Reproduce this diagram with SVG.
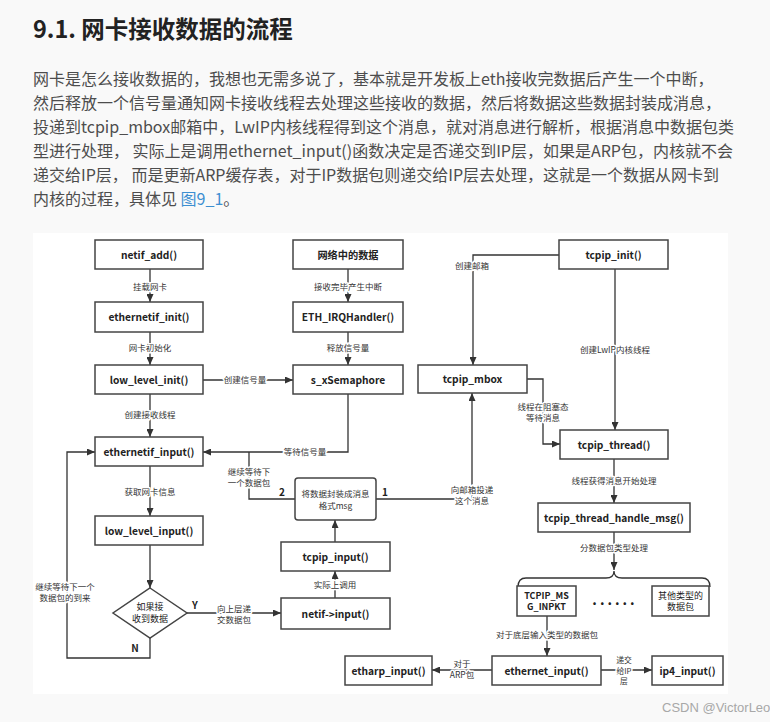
<svg xmlns="http://www.w3.org/2000/svg" width="770" height="722" viewBox="0 0 770 722">
<style>
.title{font-family:"Noto Sans CJK SC","Noto Sans",sans-serif;font-size:23.5px;font-weight:bold;fill:#222}
.para{font-family:"Noto Sans CJK SC","Noto Sans",sans-serif;font-size:16px;fill:#4d4d4d}
.link{fill:#3d8fd1}
.box{fill:#fff;stroke:#444;stroke-width:1.5}
.nt{font-family:"Noto Sans CJK SC","Noto Sans",sans-serif;font-size:10.2px;font-weight:bold;fill:#222;text-anchor:middle}
.st{font-family:"Noto Sans CJK SC","Noto Sans",sans-serif;font-size:9px;fill:#222;text-anchor:middle}
.sb{font-family:"Noto Sans CJK SC","Noto Sans",sans-serif;font-size:9px;font-weight:bold;fill:#222;text-anchor:middle}
.lb{font-family:"Noto Sans CJK SC","Noto Sans",sans-serif;font-size:8.5px;fill:#333;text-anchor:middle;stroke:#fff;stroke-width:3;paint-order:stroke;stroke-linejoin:round}
.num{font-family:"Noto Sans CJK SC","Noto Sans",sans-serif;font-size:10px;font-weight:bold;fill:#222;text-anchor:middle}
.ln{fill:none;stroke:#333;stroke-width:1.3}
.arr{marker-end:url(#ah)}
.wm{font-family:"Liberation Sans",sans-serif;font-size:13px;fill:#a8a8a8}
</style>
<defs>
<marker id="ah" markerWidth="8" markerHeight="7" refX="8" refY="3.5" orient="auto" markerUnits="userSpaceOnUse">
<path d="M0,0 L8,3.5 L0,7 z" fill="#333"/>
</marker>
</defs>
<rect x="0" y="0" width="770" height="722" fill="#f9f9f9"/>
<text class="title" x="33" y="37.5">9.1. 网卡接收数据的流程</text>
<g id="paragraph">
<text class="para" x="33" y="84.5">网卡是怎么接收数据的，我想也无需多说了，基本就是开发板上eth接收完数据后产生一个中断，</text>
<text class="para" x="33" y="108.5">然后释放一个信号量通知网卡接收线程去处理这些接收的数据，然后将数据这些数据封装成消息，</text>
<text class="para" x="33" y="132.5">投递到tcpip_mbox邮箱中，LwIP内核线程得到这个消息，就对消息进行解析，根据消息中数据包类</text>
<text class="para" x="33" y="156.5">型进行处理， 实际上是调用ethernet_input()函数决定是否递交到IP层，如果是ARP包，内核就不会</text>
<text class="para" x="33" y="180.5">递交给IP层， 而是更新ARP缓存表，对于IP数据包则递交给IP层去处理，这就是一个数据从网卡到</text>
<text class="para" x="33" y="204.5">内核的过程，具体见 <tspan class="link">图9_1</tspan>。</text>
</g>
<rect x="33" y="233" width="695" height="461" fill="#fff"/>

<g id="connectors">
<path class="ln arr" d="M150,269 V302"/>
<path class="ln arr" d="M150,332 V365"/>
<path class="ln arr" d="M150,394 V437"/>
<path class="ln arr" d="M203,380 H293"/>
<path class="ln arr" d="M348,269 V302"/>
<path class="ln arr" d="M348,332 V365"/>
<path class="ln arr" d="M348,394 V452 H203"/>
<path class="ln" d="M295,499 H249 V452"/>
<path class="ln arr" d="M376,499 H472 V393"/>
<path class="ln arr" d="M559,255 H473 V365"/>
<path class="ln arr" d="M615,269 V430"/>
<path class="ln arr" d="M527,379 H543 V444 H560"/>
<path class="ln arr" d="M614,459 V503"/>
<path class="ln arr" d="M614,532 V570"/>
<path class="ln" d="M518,587 Q518,578 526,578 L606,578 Q614,578 614,571 Q614,578 622,578 L702,578 Q710,578 710,587"/>
<path class="ln arr" d="M547,616 V656"/>
<path class="ln arr" d="M601,670 H652"/>
<path class="ln arr" d="M492,670 H432"/>
<path class="ln arr" d="M150,466 V516"/>
<path class="ln arr" d="M150,545 V588"/>
<path class="ln arr" d="M187,613 H281"/>
<path class="ln arr" d="M150,638 V658 H67 V452 H95"/>
<path class="ln arr" d="M335,599 V571"/>
<path class="ln arr" d="M335,542 V520"/>

<text class="lb" x="150" y="290">挂载网卡</text>
<text class="lb" x="150" y="351">网卡初始化</text>
<text class="lb" x="150" y="418">创建接收线程</text>
<text class="lb" x="245" y="383">创建信号量</text>
<text class="lb" x="348" y="290">接收完毕产生中断</text>
<text class="lb" x="348" y="351">释放信号量</text>
<text class="lb" x="305" y="455">等待信号量</text>
<text class="lb" x="249" y="475">继续等待下</text>
<text class="lb" x="249" y="486">一个数据包</text>
<text class="num" x="282" y="496">2</text>
<text class="num" x="385" y="496">1</text>
<text class="lb" x="472" y="493">向邮箱投递</text>
<text class="lb" x="472" y="504">这个消息</text>
<text class="lb" x="472" y="269">创建邮箱</text>
<text class="lb" x="615" y="353">创建LwIP内核线程</text>
<text class="lb" x="543" y="410">线程在阻塞态</text>
<text class="lb" x="543" y="421">等待消息</text>
<text class="lb" x="614" y="484">线程获得消息开始处理</text>
<text class="lb" x="614" y="551">分数据包类型处理</text>
<text class="lb" x="547" y="638">对于底层输入类型的数据包</text>
<text class="lb" x="624" y="663" style="font-size:7.8px">递交</text>
<text class="lb" x="624" y="673.5" style="font-size:7.8px">给IP</text>
<text class="lb" x="624" y="684" style="font-size:7.8px">层</text>
<text class="lb" x="462" y="667">对于</text>
<text class="lb" x="462" y="678">ARP包</text>
<text class="lb" x="150" y="495">获取网卡信息</text>
<text class="num" x="195" y="609">Y</text>
<text class="lb" x="234" y="612">向上层递</text>
<text class="lb" x="234" y="623">交数据包</text>
<text class="num" x="135" y="652">N</text>
<text class="lb" x="65" y="590">继续等待下一个</text>
<text class="lb" x="65" y="601">数据包的到来</text>
<text class="lb" x="335" y="588">实际上调用</text>
</g>

<g id="netif_add"><rect class="box" x="95" y="240" width="108" height="29"/><text class="nt" x="149" y="258.5">netif_add()</text></g>
<g id="ethernetif_init"><rect class="box" x="95" y="302" width="108" height="30"/><text class="nt" x="149" y="321">ethernetif_init()</text></g>
<g id="low_level_init"><rect class="box" x="95" y="365" width="108" height="29"/><text class="nt" x="149" y="383.5">low_level_init()</text></g>
<g id="net_data"><rect class="box" x="293" y="240" width="110" height="29"/><text class="nt" x="348" y="258.5">网络中的数据</text></g>
<g id="eth_irq"><rect class="box" x="293" y="302" width="110" height="30"/><text class="nt" x="348" y="321">ETH_IRQHandler()</text></g>
<g id="s_xSemaphore"><rect class="box" x="293" y="365" width="110" height="29"/><text class="nt" x="348" y="383.5">s_xSemaphore</text></g>
<g id="tcpip_init"><rect class="box" x="559" y="240" width="109" height="29"/><text class="nt" x="613.5" y="258.5">tcpip_init()</text></g>
<g id="tcpip_mbox"><rect class="box" x="418" y="365" width="109" height="28"/><text class="nt" x="472.5" y="383">tcpip_mbox</text></g>
<g id="tcpip_thread"><rect class="box" x="560" y="430" width="108" height="29"/><text class="nt" x="614" y="448.5">tcpip_thread()</text></g>
<g id="tcpip_thread_handle_msg"><rect class="box" x="538" y="503" width="152" height="29"/><text class="nt" x="614" y="521.5">tcpip_thread_handle_msg()</text></g>
<g id="tcpip_msg_inpkt"><rect class="box" x="517" y="586" width="59" height="30"/><text class="sb" x="546.5" y="598.5">TCPIP_MS</text><text class="sb" x="546.5" y="610">G_INPKT</text></g>
<g id="dots"><text class="num" x="615" y="605" style="font-size:14px;letter-spacing:3px">......</text></g>
<g id="other_pkt"><rect class="box" x="652" y="586" width="57" height="30"/><text class="st" x="680.5" y="598.5">其他类型的</text><text class="st" x="680.5" y="610">数据包</text></g>
<g id="ethernet_input"><rect class="box" x="492" y="656" width="109" height="29"/><text class="nt" x="546.5" y="674.5">ethernet_input()</text></g>
<g id="ip4_input"><rect class="box" x="652" y="656" width="71" height="29"/><text class="nt" x="687.5" y="674.5">ip4_input()</text></g>
<g id="etharp_input"><rect class="box" x="345" y="656" width="87" height="29"/><text class="nt" x="388.5" y="674.5">etharp_input()</text></g>
<g id="ethernetif_input"><rect class="box" x="95" y="437" width="108" height="29"/><text class="nt" x="149" y="455.5">ethernetif_input()</text></g>
<g id="low_level_input"><rect class="box" x="95" y="516" width="108" height="29"/><text class="nt" x="149" y="534.5">low_level_input()</text></g>
<g id="decision"><path class="box" d="M150,588 L187,613 L150,638 L113,613 z"/><text class="st" x="150" y="610">如果接</text><text class="st" x="150" y="622">收到数据</text></g>
<g id="netif_input"><rect class="box" x="281" y="598" width="109" height="31"/><text class="nt" x="335.5" y="617.5">netif-&gt;input()</text></g>
<g id="tcpip_input"><rect class="box" x="281" y="542" width="109" height="29"/><text class="nt" x="335.5" y="560.5">tcpip_input()</text></g>
<g id="msg"><rect class="box" x="295" y="478" width="81" height="42" rx="3"/><text class="lb" x="335.5" y="497" style="stroke:none">将数据封装成消息</text><text class="lb" x="335.5" y="509" style="stroke:none">格式msg</text></g>

<text class="wm" x="662" y="712">CSDN @VictorLeo</text>
</svg>
